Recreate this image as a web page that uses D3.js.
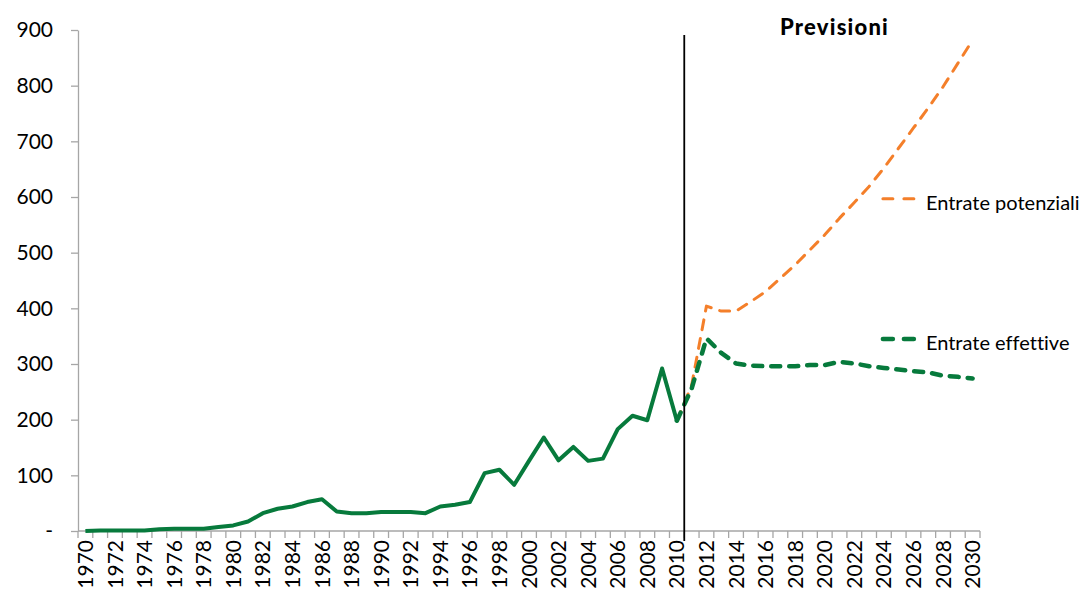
<!DOCTYPE html>
<html>
<head>
<meta charset="utf-8">
<script src="https://cdn.jsdelivr.net/npm/d3@7"></script>
<style>
  html, body { margin: 0; padding: 0; background: #fff; }
  svg { display: block; font-family: "Lato", "Open Sans", sans-serif; font-variant-ligatures: none; }
</style>
</head>
<body>
<svg id="chart" width="1088" height="592"></svg>
<script>
// Years on the horizontal axis (one band per year)
const years = [
  1970, 1971, 1972, 1973, 1974, 1975, 1976, 1977, 1978, 1979,
  1980, 1981, 1982, 1983, 1984, 1985, 1986, 1987, 1988, 1989,
  1990, 1991, 1992, 1993, 1994, 1995, 1996, 1997, 1998, 1999,
  2000, 2001, 2002, 2003, 2004, 2005, 2006, 2007, 2008, 2009,
  2010, 2011, 2012, 2013, 2014, 2015, 2016, 2017, 2018, 2019,
  2020, 2021, 2022, 2023, 2024, 2025, 2026, 2027, 2028, 2029, 2030
];

// Historical revenue, 1970-2010
const storicoAnni = [
  1970, 1971, 1972, 1973, 1974, 1975, 1976, 1977, 1978, 1979,
  1980, 1981, 1982, 1983, 1984, 1985, 1986, 1987, 1988, 1989,
  1990, 1991, 1992, 1993, 1994, 1995, 1996, 1997, 1998, 1999,
  2000, 2001, 2002, 2003, 2004, 2005, 2006, 2007, 2008, 2009, 2010
];
const entrateStoriche = [
  0, 1, 1, 1, 1, 3, 4, 4, 4, 7,
  10, 17, 32, 40, 44, 52, 57, 35, 32, 32,
  34, 34, 34, 32, 44, 47, 52, 104, 110, 83,
  126, 168, 127, 151, 126, 130, 183, 207, 199, 292, 198
];

// Forecasts, 2010-2030
const previsioniAnni = [
  2010, 2011, 2012, 2013, 2014, 2015, 2016, 2017, 2018, 2019, 2020,
  2021, 2022, 2023, 2024, 2025, 2026, 2027, 2028, 2029, 2030
];
const entratePotenziali = [
  198, 262, 404, 395, 395, 412, 430, 454, 478, 505, 532,
  562, 590, 619, 652, 688, 724, 760, 798, 840, 882
];
const entrateEffettive = [
  198, 256, 346, 320, 301, 297, 296, 296, 296, 298, 298,
  304, 301, 296, 293, 290, 287, 285, 279, 277, 274
];

const yTicks = [0, 100, 200, 300, 400, 500, 600, 700, 800, 900];
const yTickLabels = ["-", "100", "200", "300", "400", "500", "600", "700", "800", "900"];
const labelYears = years.filter(y => y % 2 === 0);

const legendItems = [
  { label: "Entrate potenziali", color: "#f47f2a", value: 597, width: 3 },
  { label: "Entrate effettive",  color: "#077a3c", value: 345, width: 4.5 }
];

const GREEN = "#077a3c";
const ORANGE = "#f47f2a";
const AXIS = "#a6a6a6";
const FONT = "Lato, 'Open Sans', sans-serif";

const svg = d3.select("#chart");
const margin = { left: 78, right: 108, top: 30, bottom: 61 };
const W = 1088, H = 592;

const x = d3.scaleBand()
  .domain(years)
  .range([margin.left, W - margin.right])
  .padding(0);

const y = d3.scaleLinear()
  .domain([0, 900])
  .range([H - margin.bottom, margin.top]);

const cx = d => x(d) + x.bandwidth() / 2;

// Y axis
const yAxis = d3.axisLeft(y)
  .tickValues(yTicks)
  .tickFormat((d, i) => yTickLabels[i])
  .tickSize(7)
  .tickSizeOuter(0)
  .tickPadding(18);

const gy = svg.append("g")
  .attr("transform", `translate(${margin.left},0)`)
  .call(yAxis)
  .attr("font-family", FONT)
  .attr("font-size", 21);
gy.select(".domain").attr("stroke", AXIS).attr("stroke-width", 1.3);
gy.selectAll(".tick line").attr("stroke", AXIS).attr("stroke-width", 1.3);
gy.selectAll(".tick text").attr("fill", "#000");

// X axis: baseline, a tick at every year boundary, labels on even years
const gx = svg.append("g").attr("font-family", FONT);
gx.append("line")
  .attr("x1", x.range()[0]).attr("x2", x.range()[1])
  .attr("y1", y(0)).attr("y2", y(0))
  .attr("stroke", AXIS).attr("stroke-width", 1.3);

const boundaries = years.map(d => x(d)).concat([x.range()[1]]);
gx.selectAll("line.xtick")
  .data(boundaries)
  .join("line")
  .attr("class", "xtick")
  .attr("x1", d => d).attr("x2", d => d)
  .attr("y1", y(0)).attr("y2", y(0) + 7)
  .attr("stroke", AXIS).attr("stroke-width", 1.3);

gx.selectAll("text.xlabel")
  .data(labelYears)
  .join("text")
  .attr("class", "xlabel")
  .attr("transform", d => `translate(${cx(d)},${y(0) + 9}) rotate(-90)`)
  .attr("text-anchor", "end")
  .attr("dy", "0.36em")
  .style("font-size", "21px")
  .attr("fill", "#000")
  .text(d => d);

// Lines
const line = d3.line()
  .x(d => cx(d[0]))
  .y(d => y(d[1]));

svg.append("path")
  .datum(previsioniAnni.map((a, i) => [a, entratePotenziali[i]]))
  .attr("d", line)
  .attr("fill", "none")
  .attr("stroke", ORANGE)
  .attr("stroke-width", 3)
  .attr("stroke-linecap", "round")
  .attr("stroke-linejoin", "round")
  .attr("stroke-dasharray", "10,9");

svg.append("path")
  .datum(storicoAnni.map((a, i) => [a, entrateStoriche[i]]))
  .attr("d", line)
  .attr("fill", "none")
  .attr("stroke", GREEN)
  .attr("stroke-width", 4)
  .attr("stroke-linejoin", "round");

svg.append("path")
  .datum(previsioniAnni.map((a, i) => [a, entrateEffettive[i]]))
  .attr("d", line)
  .attr("fill", "none")
  .attr("stroke", GREEN)
  .attr("stroke-width", 4.5)
  .attr("stroke-linecap", "round")
  .attr("stroke-linejoin", "round")
  .attr("stroke-dasharray", "9,9");

// Divider between history and forecasts
svg.append("line")
  .attr("x1", x(2011)).attr("x2", x(2011))
  .attr("y1", y(900) + 5).attr("y2", y(0) + 10)
  .attr("stroke", "#000").attr("stroke-width", 1.8);

svg.append("text")
  .attr("x", cx(2021) - 5)
  .attr("y", 35)
  .attr("text-anchor", "middle")
  .style("font-size", "22px")
  .style("font-weight", "900")
  .style("letter-spacing", "1.2px")
  .attr("fill", "#000")
  .text("Previsioni");

// Inline legend
const lg = svg.selectAll("g.legend")
  .data(legendItems)
  .join("g")
  .attr("class", "legend")
  .attr("transform", d => `translate(${cx(2024) - 3},${y(d.value)})`);

lg.append("line")
  .attr("x1", 2).attr("x2", 34)
  .attr("y1", 0).attr("y2", 0)
  .attr("stroke", d => d.color)
  .attr("stroke-width", d => d.width)
  .attr("stroke-linecap", "round")
  .attr("stroke-dasharray", "10,11");

lg.append("text")
  .attr("x", 45)
  .attr("y", 4)
  .attr("dy", "0.35em")
  .style("font-size", "20px")
  .attr("fill", "#000")
  .text(d => d.label);
</script>
</body>
</html>
